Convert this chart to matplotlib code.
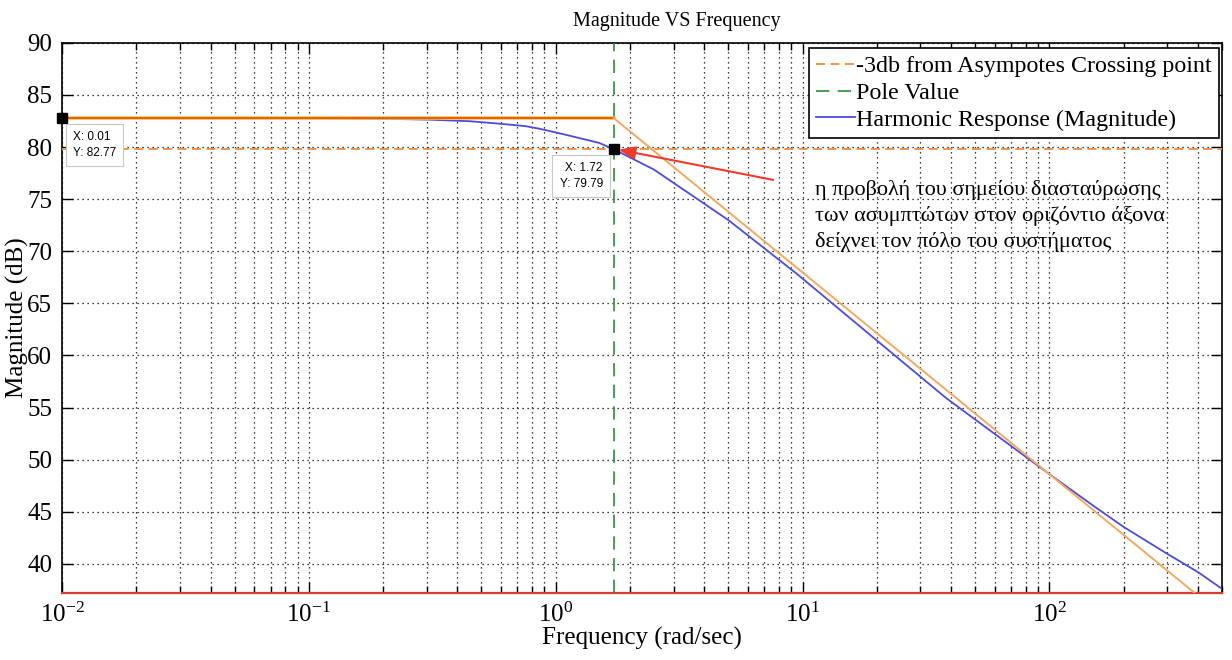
import matplotlib
matplotlib.use("Agg")
import matplotlib.pyplot as plt
from matplotlib.ticker import LogLocator, LogFormatterMathtext, NullFormatter

plt.rcParams['font.family'] = ['Liberation Serif', 'DejaVu Serif']
plt.rcParams['mathtext.fontset'] = 'stix'

# ---- data ----
resp_freq = [0.01, 0.05, 0.1, 0.22, 0.31, 0.45, 0.57, 0.75, 0.86, 1.09, 1.5, 1.72,
             2.5, 5, 9.46, 20, 38.2, 70, 100, 150, 201, 300, 400, 500]
resp_mag = [82.77, 82.77, 82.76, 82.70, 82.63, 82.48, 82.28, 82.02, 81.76, 81.2, 80.4, 79.79,
            77.84, 73.0, 67.85, 61.43, 55.9, 51.3, 48.6, 45.6, 43.5, 40.96, 39.2, 37.6]

asym_flat_freq = [0.01, 1.72]
asym_flat_mag = [82.77, 82.77]
asym_slope_freq = [1.72, 500]
asym_slope_mag = [82.77, 35.06]

pole_freq = 1.72
minus3db_level = 79.79
dc_level = 82.77
freq_min, freq_max = 0.01, 500
yticks = [40, 45, 50, 55, 60, 65, 70, 75, 80, 85, 90]

tip_points = [(0.01, 82.77), (1.72, 79.79)]
tip_labels = ["X: 0.01\nY: 82.77", "X: 1.72\nY: 79.79"]

note_text = ("η προβολή του σημείου διασταύρωσης\n"
             "των ασυμπτώτων στον οριζόντιο άξονα\n"
             "δείχνει τον πόλο του συστήματος")

legend_labels = ["-3db from Asympotes Crossing point", "Pole Value",
                 "Harmonic Response (Magnitude)"]

# ---- figure ----
fig = plt.figure(figsize=(12.32, 6.6), dpi=100)
ax = fig.add_axes([0.0503, 0.1015, 0.9416, 0.8335])

ax.set_xscale('log')
ax.set_xlim(freq_min, freq_max)
ax.set_ylim(37.2, 90)

# grid
ax.grid(True, which='major', axis='both', color='black', linestyle=(0, (1, 3)), linewidth=0.9)
ax.grid(True, which='minor', axis='x', color='black', linestyle=(0, (1, 3)), linewidth=0.9)

# lines
l_resp, = ax.plot(resp_freq, resp_mag, color='#4b4bdc', linewidth=1.3, zorder=3)
ax.plot(asym_flat_freq, asym_flat_mag, color='#f0d020', linewidth=2.6, zorder=4)
ax.plot(asym_flat_freq, asym_flat_mag, color='#f03a3a', linewidth=1.2, zorder=4)
ax.plot(asym_slope_freq, asym_slope_mag, color='#f4a860', linewidth=1.4, zorder=4)
l_3db = ax.axhline(minus3db_level, color='#f08c3c', linestyle=(0, (5, 3)), linewidth=1.3, zorder=4)
l_pole = ax.axvline(pole_freq, color='#2e8b3c', linestyle=(0, (8, 5)), linewidth=1.2, zorder=4)

# data tips
for (px, py), lab, off, ha in zip(tip_points, tip_labels, [(8, -9), (-8, -9)], ['left', 'right']):
    ax.plot([px], [py], marker='s', color='black', markersize=7, zorder=6, clip_on=False)
    ax.annotate(lab, xy=(px, py), xytext=off, textcoords='offset points',
                ha=ha, va='top', fontsize=8.5, family='Liberation Sans', color='black',
                linespacing=1.5,
                bbox=dict(boxstyle='square,pad=0.6', fc='white', ec='#c8c8c8', lw=0.8),
                zorder=7)

# red arrow annotation
ax.annotate('', xy=(1.80, 79.75), xytext=(7.6, 76.85),
            arrowprops=dict(arrowstyle='-|>,head_length=1.0,head_width=0.4',
                            color='#f03a2a', lw=1.5, shrinkA=0, shrinkB=0),
            zorder=7)
ax.text(0.649, 0.750, note_text, transform=ax.transAxes, ha='left', va='top',
        fontsize=16, linespacing=1.4, zorder=7)

# ticks
ax.xaxis.set_major_locator(LogLocator(base=10, numticks=10))
ax.xaxis.set_minor_locator(LogLocator(base=10, subs=[2, 3, 4, 5, 6, 7, 8, 9], numticks=20))
ax.xaxis.set_major_formatter(LogFormatterMathtext())
ax.xaxis.set_minor_formatter(NullFormatter())
ax.set_yticks(yticks)
ax.tick_params(axis='both', which='both', direction='in', top=True, right=True,
               labelsize=18, colors='black')
ax.tick_params(axis='both', which='major', length=8, width=1.0, pad=7)
ax.tick_params(axis='x', which='minor', length=5, width=1.0)

for s in ax.spines.values():
    s.set_linewidth(1.2)
    s.set_color('black')
ax.spines['bottom'].set_color('#d83a30')
ax.spines['bottom'].set_linewidth(1.6)

ax.set_title('Magnitude VS Frequency', fontsize=14.5, pad=12, x=0.53)
ax.set_xlabel('Frequency (rad/sec)', fontsize=18, labelpad=0)
ax.set_ylabel('Magnitude (dB)', fontsize=18, labelpad=-1)

leg = ax.legend([l_3db, l_pole, l_resp], legend_labels, loc='upper right',
                bbox_to_anchor=(0.997, 0.99), fontsize=17.3, frameon=True, fancybox=False,
                edgecolor='black', framealpha=1, handlelength=1.6, handletextpad=0.05,
                labelspacing=0.2, borderpad=0.3, borderaxespad=0)
leg.get_frame().set_linewidth(1.2)
leg.set_zorder(10)

fig.savefig('out.png', dpi=100, facecolor='white')
